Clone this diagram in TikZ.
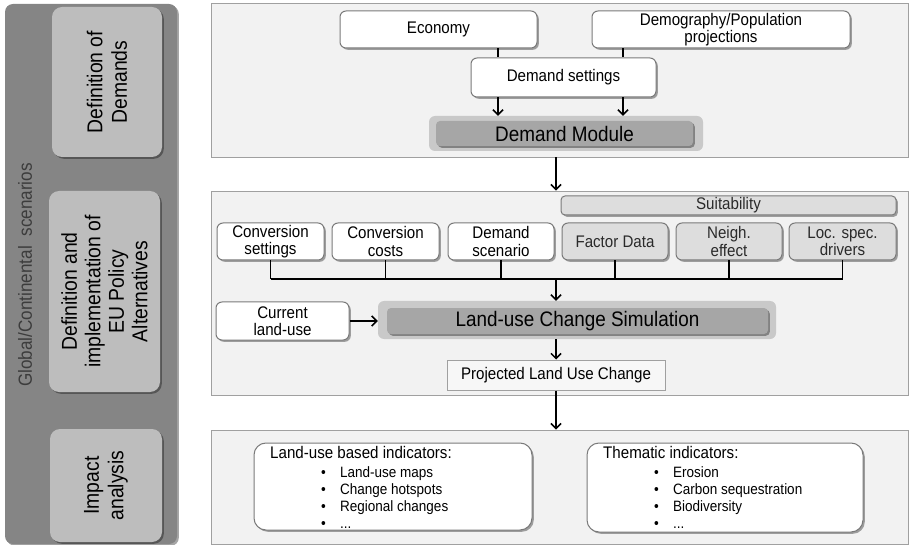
\documentclass[tikz,border=0pt]{standalone}
\usepackage{fontspec}
\setmainfont{Liberation Sans}[FakeStretch=0.9]
\usetikzlibrary{arrows.meta,shadows}
\definecolor{panelfill}{HTML}{F2F2F2}
\definecolor{panelline}{HTML}{A0A0A0}
\definecolor{boxline}{HTML}{7A7A7A}
\definecolor{suitfill}{HTML}{DDDDDD}
\definecolor{modouter}{HTML}{C9C9C9}
\definecolor{modinner}{HTML}{A6A6A6}
\definecolor{leftdark}{HTML}{858585}
\definecolor{leftlight}{HTML}{BDBDBD}
\definecolor{txtgray}{HTML}{2A2A2A}
\newcommand{\fs}[2]{\fontsize{#1}{#2}\selectfont}
\begin{document}
\begin{tikzpicture}[x=1pt,y=-1pt,
  shad/.style={drop shadow={shadow xshift=1.8pt,shadow yshift=-1.8pt,fill=black,opacity=0.35}},
  panel/.style={draw=panelline,line width=0.9pt,fill=panelfill,inner sep=0pt},
  wbox/.style={draw=boxline,line width=1pt,rounded corners=6pt,fill=white,inner sep=0pt,align=center,font=\fs{16.8}{17.5},shad},
  sbox/.style={wbox,fill=suitfill,text=txtgray},
  modout/.style={fill=modouter,rounded corners=6pt,inner sep=0pt},
  modin/.style={fill=modinner,rounded corners=4pt,inner sep=0pt,font=\fs{21}{23},shad},
  lbox/.style={fill=leftlight,rounded corners=10pt,inner sep=0pt,align=center,rotate=90,font=\fs{21.5}{24.5},shad},
  conn/.style={line width=1.5pt,black},
  arr/.style={conn,-{Straight Barb[length=5pt,width=10pt]}},
  itm/.style={anchor=base west,inner sep=0pt,font=\fs{15}{17}},
  ttl/.style={anchor=base west,inner sep=0pt,font=\fs{16.8}{17}}
]
\useasboundingbox (0,0) rectangle (910,545);

% left column
\node[fill=leftdark,rounded corners=8pt,minimum width=172pt,minimum height=540pt,inner sep=0pt,shad] (left) at (91,274) {};
\node[lbox,minimum width=150pt,minimum height=110pt] (ldem) at (107,82) {Definition of\\Demands};
\node[lbox,minimum width=201pt,minimum height=111pt,font=\fs{21.5}{23.5}] (lpol) at (104.5,291.5) {Definition and\\implementation of\\EU Policy\\Alternatives};
\node[lbox,minimum width=113pt,minimum height=112pt] (limp) at (106,485.5) {Impact\\analysis};
\node[rotate=90,inner sep=0pt,text=txtgray!80!leftdark,font=\fs{19}{20}] (glob) at (25,275) {Global/Continental\ \ scenarios};

% panels
\node[panel,minimum width=697pt,minimum height=154pt] (p1) at (559.5,80) {};
\node[panel,minimum width=697pt,minimum height=204pt] (p2) at (559.5,293) {};
\node[panel,minimum width=697pt,minimum height=114pt] (p3) at (559.5,487) {};

\coordinate (cA) at (498,0);
\coordinate (cB) at (623,0);
\coordinate (cM) at (556,0);
\coordinate (bus) at (0,279);

% panel 1
\node[wbox,minimum width=197pt,minimum height=37pt] (eco) at (438.5,29.5) {Economy};
\node[wbox,minimum width=258pt,minimum height=37pt] (demo) at (721,29.5) {Demography/Population\\projections};
\node[wbox,minimum width=185pt,minimum height=39pt] (set) at (563.5,77.5) {Demand settings};
\node[modout,minimum width=274pt,minimum height=35pt] (modo) at (566,133.5) {};
\node[modin,minimum width=257pt,minimum height=25pt] (modi) at (564.5,133.5) {Demand Module};
\draw[conn] (eco.south -| cA) -- (set.north -| cA);
\draw[conn] (demo.south -| cB) -- (set.north -| cB);
\draw[arr] (set.south -| cA) -- (modo.north -| cA);
\draw[arr] (set.south -| cB) -- (modo.north -| cB);
\draw[arr] (p1.south -| cM) -- (p2.north -| cM);

% panel 2
\node[sbox,minimum width=335pt,minimum height=19pt,rounded corners=4pt] (suit) at (728.5,205.5) {Suitability};
\node[wbox,minimum width=107pt,minimum height=37pt] (cs) at (270.5,241.5) {Conversion\\settings};
\node[wbox,minimum width=107pt,minimum height=37pt] (cc) at (385.5,241.5) {Conversion\\costs};
\node[wbox,minimum width=106pt,minimum height=37pt] (dsc) at (501,241.5) {Demand\\scenario};
\node[sbox,minimum width=106pt,minimum height=37pt] (fd) at (615,241.5) {Factor Data};
\node[sbox,minimum width=106pt,minimum height=37pt] (ne) at (729,241.5) {Neigh.\\effect};
\node[sbox,minimum width=107pt,minimum height=37pt] (lsd) at (842.5,241.5) {Loc. spec.\\drivers};
\foreach \b in {cs,cc,dsc,fd,ne,lsd} {\draw[conn] (\b.south) -- (\b.south |- bus);}
\draw[conn] (cs.south |- bus) -- (lsd.south |- bus);
\node[wbox,minimum width=133pt,minimum height=38pt] (cur) at (282.5,321) {Current\\land-use};
\node[modout,minimum width=398pt,minimum height=38pt] (lco) at (577,320) {};
\node[modin,minimum width=381pt,minimum height=26pt] (lci) at (577.5,321) {Land-use Change Simulation};
\node[draw=panelline,line width=1pt,fill=panelfill!60!white,minimum width=218pt,minimum height=30pt,inner sep=0pt,font=\fs{16.8}{17}] (proj) at (556,375) {Projected Land Use Change};
\draw[arr] (cM |- bus) -- (lco.north -| cM);
\draw[arr] (cur.east) -- (lco.west |- cur.east);
\draw[arr] (lco.south -| cM) -- (proj.north);
\draw[arr] (proj.south) -- (p3.north -| proj.south);

% panel 3
\node[wbox,minimum width=278pt,minimum height=87pt,rounded corners=12pt] (lu) at (393,486.5) {};
\node[wbox,minimum width=276pt,minimum height=89pt,rounded corners=12pt] (th) at (725,487.5) {};
\node[ttl] (lut) at (270,458.5) {Land-use based indicators:};
\node[itm] (lu1) at (321,477) {\makebox[19pt][l]{•}Land-use maps};
\node[itm] (lu2) at (321,494) {\makebox[19pt][l]{•}Change hotspots};
\node[itm] (lu3) at (321,511) {\makebox[19pt][l]{•}Regional changes};
\node[itm] (lu4) at (321,528) {\makebox[19pt][l]{•}...};
\node[ttl] (tht) at (603,458.5) {Thematic indicators:};
\node[itm] (th1) at (654,477) {\makebox[19pt][l]{•}Erosion};
\node[itm] (th2) at (654,494.5) {\makebox[19pt][l]{•}Carbon sequestration};
\node[itm] (th3) at (654,511.5) {\makebox[19pt][l]{•}Biodiversity};
\node[itm] (th4) at (654,528.5) {\makebox[19pt][l]{•}...};
\end{tikzpicture}
\end{document}
